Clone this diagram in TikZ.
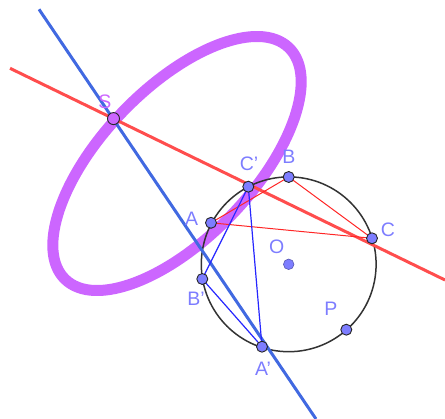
\documentclass[tikz,border=0pt]{standalone}
\usepackage{fontspec}
\setmainfont{Liberation Sans}
\definecolor{ggpurple}{RGB}{204,102,255}
\definecolor{ggred}{RGB}{255,77,77}
\definecolor{ggblue}{RGB}{65,105,225}
\definecolor{ptfill}{RGB}{125,125,255}
\definecolor{circgray}{RGB}{51,51,51}
\tikzset{
  pt/.style={circle, fill=ptfill, draw=black!85, line width=0.9pt, inner sep=0pt, minimum size=11pt},
  ptO/.style={circle, fill=ptfill, draw=ptfill!70!black, line width=0.6pt, inner sep=0pt, minimum size=10.5pt},
  ptS/.style={circle, fill=ggpurple, draw=black!85, line width=0.9pt, inner sep=0pt, minimum size=12pt},
  lbl/.style={text=ptfill, font=\fontsize{19.5}{19.5}\selectfont, inner sep=0pt},
  lblS/.style={text=ggpurple, font=\fontsize{19.5}{19.5}\selectfont, inner sep=0pt},
  thinred/.style={draw=red!85, line width=1pt},
  thinblue/.style={draw=blue!85, line width=1.2pt},
}
\begin{document}
\begin{tikzpicture}[x=1pt,y=-1pt]
\useasboundingbox (0,0) rectangle (445,419);
% conic
\draw[ggpurple, line width=11pt, rotate around={46:(177,163.5)}] (177,163.5) ellipse [x radius=161pt, y radius=75pt];
% coordinates
\coordinate (Rl) at (10,68.3);
\coordinate (Rr) at (445,280);
\coordinate (Bt) at (39,9.3);
\coordinate (Bb) at (316,419);
\coordinate (Oc) at (288.7,264.3);
% circle
\draw[circgray, line width=1.5pt] (Oc) circle [radius=87.4pt];
% main lines
\draw[ggred, line width=3pt] (Rl) -- (Rr);
\draw[ggblue, line width=3pt] (Bt) -- (Bb);
% points (coordinates)
\coordinate (A) at (211,222.8);
\coordinate (B) at (288.7,177);
\coordinate (C) at (372,238.3);
\coordinate (Ap) at (262,346.7);
\coordinate (Bp) at (202.3,279);
\coordinate (Cp) at (248.3,186.7);
% triangles
\draw[thinred] (A) -- (B) -- (C) -- cycle;
\draw[thinblue] (Ap) -- (Bp) -- (Cp) -- cycle;
% point markers
\node[ptS] (S) at (113.5,118.6) {};
\node[pt] (nA) at (A) {};
\node[pt] (nB) at (B) {};
\node[pt] (nC) at (C) {};
\node[pt] (nAp) at (Ap) {};
\node[pt] (nBp) at (Bp) {};
\node[pt] (nCp) at (Cp) {};
\node[pt] (P) at (346.3,329.7) {};
\node[ptO] (O) at (Oc) {};
% labels
\node[lblS] (lS) at (105,101.7) {S};
\node[lbl] (lCp) at (249,164) {C'};
\node[lbl] (lB) at (289,156.7) {B};
\node[lbl] (lA) at (191.7,218.3) {A};
\node[lbl] (lC) at (388,230) {C};
\node[lbl] (lO) at (276.7,246.7) {O};
\node[lbl] (lBp) at (196,298.3) {B'};
\node[lbl] (lP) at (331,309) {P};
\node[lbl] (lAp) at (263,368.3) {A'};
\end{tikzpicture}
\end{document}
